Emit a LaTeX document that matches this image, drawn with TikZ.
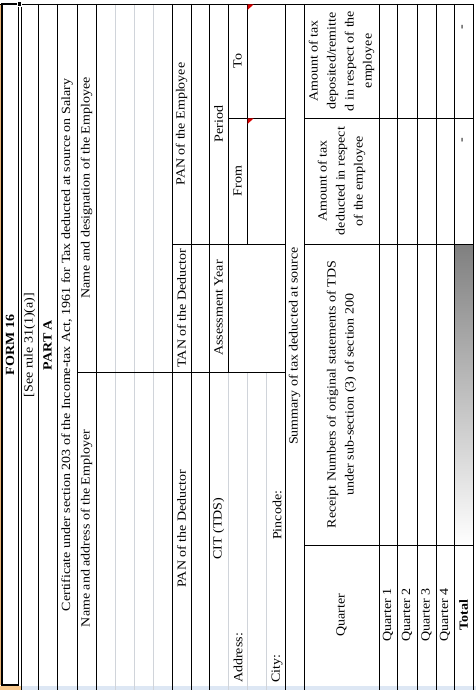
\documentclass[tikz,border=0pt]{standalone}
\usepackage{fontspec}
\setmainfont{Liberation Serif}[FakeStretch=1.12]
\definecolor{shade}{RGB}{150,150,150}
\definecolor{gridgray}{RGB}{208,212,218}
\definecolor{band}{RGB}{221,231,244}
\definecolor{selband}{RGB}{248,200,140}
\begin{document}
\begin{tikzpicture}[x=1pt,y=-1pt,
  cell/.style={rotate=90, inner sep=0pt, font=\fontsize{12.5}{14}\selectfont},
  boldcell/.style={cell, font=\fontsize{12.5}{14}\selectfont\bfseries},
  multi/.style={cell, align=center, font=\fontsize{12.5}{18}\selectfont},
  gridline/.style={draw=gridgray, line width=0.6pt},
  blk/.style={draw=black, line width=0.8pt}]
\useasboundingbox (0,0) rectangle (476,690);
\fill[white] (0,0) rectangle (476,690);
\fill[band] (0,685.5) rectangle (476,690);
\fill[selband] (0,685.5) rectangle (21,690);
\fill[shade] (454,244) rectangle (473,545);
\draw[gridline] (115,4) -- (115,690) (134,4) -- (134,690) (153,4) -- (153,690);
\draw[gridline] (228,372) -- (228,690) (247,372) -- (247,690) (266,372) -- (266,690);
\draw[selband!70!brown, line width=0.8pt] (0.4,4) -- (0.4,685);
\draw[blk] (0,4) -- (473,4);
\draw[blk] (21,4) -- (21,690) (38,4) -- (38,690) (57,4) -- (57,690) (77,4) -- (77,690)
  (96,4) -- (96,690) (172,4) -- (172,690) (191,4) -- (191,690) (209,4) -- (209,690)
  (285,4) -- (285,690) (304,4) -- (304,690) (379,4) -- (379,690) (397,4) -- (397,690)
  (417,4) -- (417,690) (436,4) -- (436,690) (454,4) -- (454,690) (473,4) -- (473,690);
\draw[blk] (228,4) -- (228,372) (247,4) -- (247,244);
\draw[blk] (77,372) -- (285,372) (172,244) -- (285,244) (228,118) -- (285,118);
\draw[blk] (304,118) -- (473,118) (304,244) -- (473,244) (304,545) -- (473,545);
\draw[black, line width=1.2pt] (2,4) rectangle (18.6,685);
\filldraw[fill=black, draw=white, line width=0.6pt] (16.8,1.8) rectangle (21.2,6.2);
\fill[red!85!black] (247.5,4.5) -- (253.5,4.5) -- (247.5,10) -- cycle;
\fill[red!85!black] (247.5,118.5) -- (253.5,118.5) -- (247.5,124) -- cycle;

\node[boldcell] (form) at (10,345) {FORM 16};
\node[cell] (rule) at (29.5,345) {[See rule 31(1)(a)]};
\node[boldcell] (parta) at (47.5,345) {PART A};
\node[cell] (cert) at (67,345) {Certificate under section 203 of the Income-tax Act, 1961 for Tax deducted at source on Salary};
\node[cell] (employer) at (86.5,528.5) {Name and address of the Employer};
\node[cell] (employee) at (86.5,188) {Name and designation of the Employee};
\node[cell] (panded) at (181.5,528.5) {PAN of the Deductor};
\node[cell] (tan) at (181.5,308) {TAN of the Deductor};
\node[cell] (panemp) at (181.5,124) {PAN of the Employee};
\node[cell] (cit) at (218.5,528.5) {CIT (TDS)};
\node[cell] (ay) at (218.5,308) {Assessment Year};
\node[cell] (period) at (218.5,124) {Period};
\node[cell] (from) at (237.5,181) {From};
\node[cell] (to) at (237.5,61) {To};
\node[cell, anchor=west] (address) at (238,683) {Address:};
\node[cell, anchor=west] (city) at (277,683) {City:};
\node[cell, anchor=west] (pincode) at (277,540) {Pincode:};
\node[cell] (summary) at (294.5,346) {Summary of tax deducted at source};
\node[cell] (quarter) at (341.5,615) {Quarter};
\node[multi] (receipt) at (341.5,394.5) {Receipt Numbers of original statements of TDS\\under sub-section (3) of section 200};
\node[multi] (deducted) at (341.5,181) {Amount of tax\\deducted in respect\\of the employee};
\node[multi] (deposited) at (341.5,61) {Amount of tax\\deposited/remitte\\d in respect of the\\employee};
\node[cell] (q1) at (388,615) {Quarter 1};
\node[cell] (q2) at (407,615) {Quarter 2};
\node[cell] (q3) at (426.5,615) {Quarter 3};
\node[cell] (q4) at (445,615) {Quarter 4};
\node[boldcell] (total) at (463.5,615) {Total};
\node[cell] (dashdep) at (463.5,27) {-};
\node[cell] (dashded) at (463.5,140) {-};
\end{tikzpicture}
\end{document}
